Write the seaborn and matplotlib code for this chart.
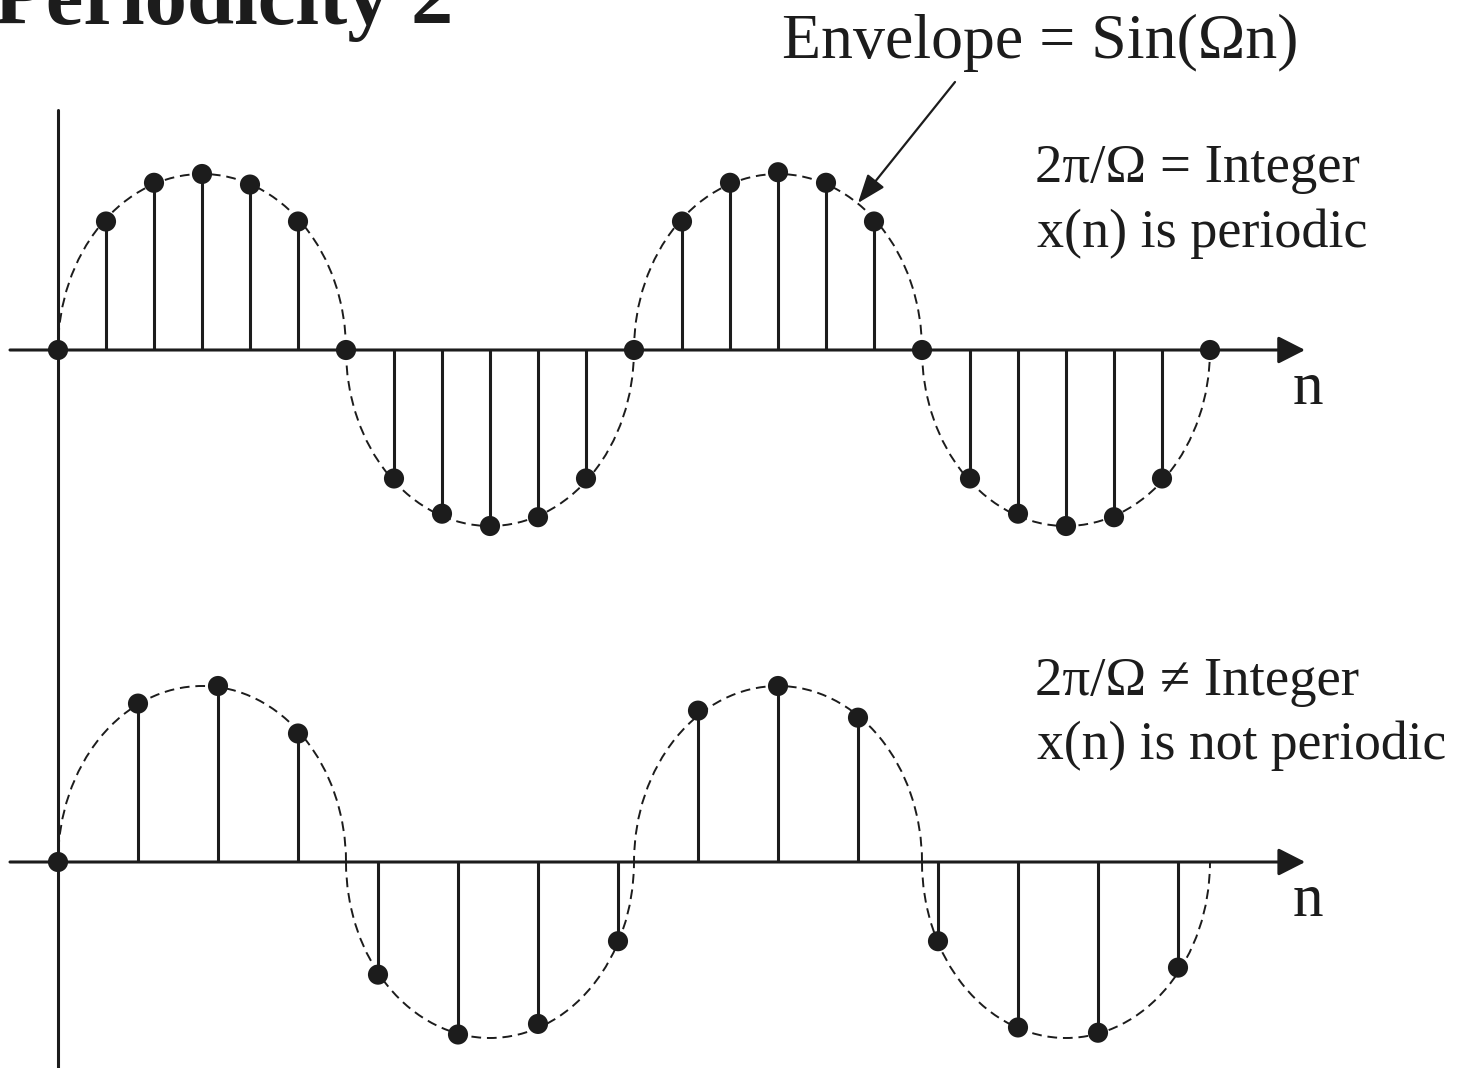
import matplotlib
matplotlib.use("Agg")
import matplotlib.pyplot as plt
from matplotlib.patches import Arc, FancyArrowPatch
import seaborn as sns
import pandas as pd

top_n = list(range(25))
top_x = [0, 0.73, 0.95, 1.0, 0.94, 0.73, 0, -0.73, -0.93, -1.0, -0.95, -0.73, 0,
         0.73, 0.95, 1.01, 0.95, 0.73, 0, -0.73, -0.93, -1.0, -0.95, -0.73, 0]
bottom_n = list(range(15))
bottom_x = [0, 0.90, 1.0, 0.73, -0.64, -0.98, -0.92, -0.45, 0.86, 1.0, 0.82,
            -0.45, -0.94, -0.97, -0.60]

# envelope period in samples for each case
top_period = 12
bottom_period = 7.2
n_lobes = 4

title = "Periodicity 2"
envelope_label = "Envelope = Sin(\u03A9n)"
top_labels = ["2\u03C0/\u03A9 = Integer", "x(n) is periodic"]
bottom_labels = ["2\u03C0/\u03A9 \u2260 Integer", "x(n) is not periodic"]

INK = "#1c1c1c"
SERIF = ["Liberation Serif", "DejaVu Serif"]
W, H = 1460, 1068

sns.set_theme(style="white")
plt.rcParams["font.family"] = SERIF

fig = plt.figure(figsize=(W / 100, H / 100), dpi=100)
fig.patch.set_facecolor("white")


def make_axes(x0_px, y0_px, dx_px, amp_px):
    ax = fig.add_axes([0, 0, 1, 1])
    ax.set_facecolor("none")
    ax.set_xlim(-x0_px / dx_px, (W - x0_px) / dx_px)
    ax.set_ylim((y0_px - H) / amp_px, y0_px / amp_px)
    ax.set_axis_off()
    return ax


def draw_sequence(ax, n, x, period, arrow_end, arrow_start):
    df = pd.DataFrame({"n": n, "x": x})
    ax.vlines(df["n"], 0, df["x"], color=INK, lw=2.2, zorder=2)
    ax.annotate("", xy=(arrow_end, 0), xytext=(arrow_start, 0),
                arrowprops=dict(arrowstyle="-|>,head_length=0.55,head_width=0.28",
                                mutation_scale=30, lw=2.2, color=INK,
                                shrinkA=0, shrinkB=0), zorder=2)
    half = period / 2
    for k in range(n_lobes):
        c = half / 2 + k * half
        t1, t2 = (0, 180) if k % 2 == 0 else (180, 360)
        ax.add_patch(Arc((c, 0), half, 2, theta1=t1, theta2=t2, color=INK,
                         lw=1.4, ls=(0, (5, 3)), zorder=1))
    sns.scatterplot(data=df, x="n", y="x", ax=ax, color=INK, s=210,
                    edgecolor="none", zorder=3, legend=False)
    ax.set_axis_off()


ax_top = make_axes(58, 350, 48, 176)
ax_bot = make_axes(58, 862, 80, 176)

# vertical axis shared by both plots
ax_top.axvline(0, ymin=0, ymax=(H - 110) / H, color=INK, lw=2.2)

draw_sequence(ax_top, top_n, top_x, top_period, 25.98, -1.0)
draw_sequence(ax_bot, bottom_n, bottom_x, bottom_period, 15.59, -0.6)


def fy(py):
    return (H - py) / H


fig.text(-6 / W, fy(24), title, fontsize=61, fontweight="bold", color=INK,
         va="baseline", ha="left")
fig.text(782 / W, fy(58), envelope_label, fontsize=46, color=INK, va="baseline")
fig.text(1035 / W, fy(182), top_labels[0], fontsize=39.5, color=INK, va="baseline")
fig.text(1037 / W, fy(247), top_labels[1], fontsize=39, color=INK, va="baseline")
fig.text(1035 / W, fy(695), bottom_labels[0], fontsize=39.5, color=INK, va="baseline")
fig.text(1037 / W, fy(759), bottom_labels[1], fontsize=38.6, color=INK, va="baseline")
fig.text(1293 / W, fy(404), "n", fontsize=44, color=INK, va="baseline")
fig.text(1293 / W, fy(916), "n", fontsize=44, color=INK, va="baseline")

fig.add_artist(FancyArrowPatch(
    (955 / W, fy(82)), (858 / W, fy(203)), transform=fig.transFigure,
    arrowstyle="-|>,head_length=0.8,head_width=0.3", mutation_scale=22,
    lw=1.6, color=INK, shrinkA=0, shrinkB=0))

fig.savefig("out.png", dpi=100)
